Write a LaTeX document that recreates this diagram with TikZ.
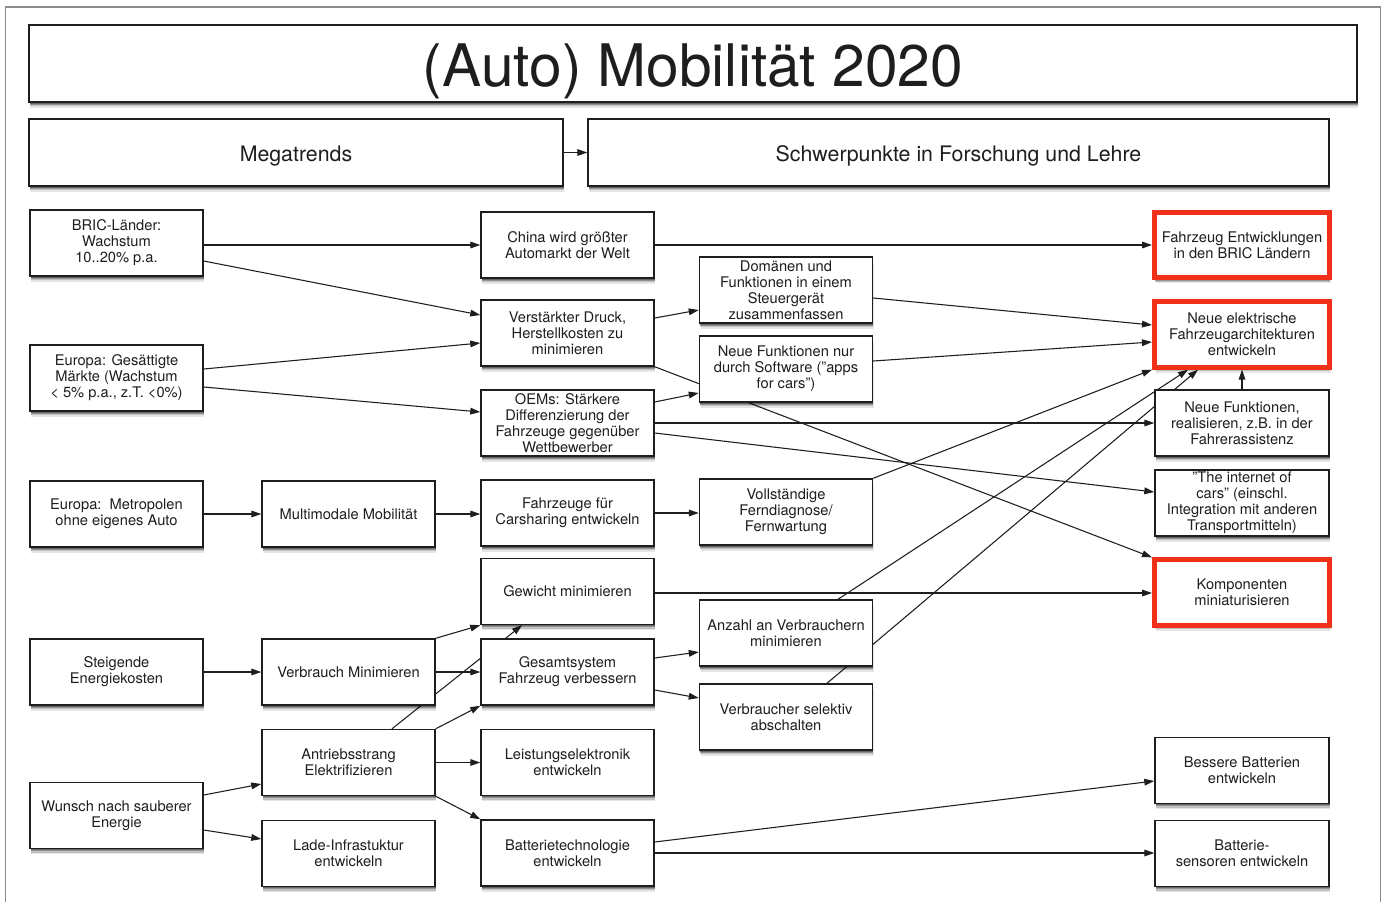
\documentclass[tikz,border=0pt]{standalone}
\usepackage{fontspec}
\setmainfont{TeX Gyre Heros}
\usetikzlibrary{arrows.meta,shadows,backgrounds}
\definecolor{rbred}{RGB}{240,48,24}
\definecolor{ink}{RGB}{30,30,30}
\begin{document}
\begin{tikzpicture}[x=0.75pt,y=-0.75pt,
  shad/.style={
    drop shadow={shadow xshift=0.8pt,shadow yshift=-4.2pt,opacity=0.10,fill=black},
    drop shadow={shadow xshift=0.7pt,shadow yshift=-3.2pt,opacity=0.16,fill=black},
    drop shadow={shadow xshift=0.6pt,shadow yshift=-2.2pt,opacity=0.24,fill=black},
    drop shadow={shadow xshift=0.5pt,shadow yshift=-1.3pt,opacity=0.30,fill=black}},
  box/.style={draw=ink,line width=1.1pt,fill=white,minimum width=129.75pt,minimum height=49.5pt,inner sep=0pt,align=center,font=\fontsize{11}{12}\selectfont,text=ink,shad},
  ebox/.style={box,minimum width=130.5pt},
  redbox/.style={box,draw=rbred,line width=3.75pt,minimum width=131.25pt,minimum height=49pt},
  headbox/.style={box,minimum height=50.25pt,font=\fontsize{16}{19}\selectfont},
  conn/.style={draw=ink,line width=0.8pt,-{Triangle[length=7.5pt,width=5pt]}}
]
\useasboundingbox (0,0) rectangle (1386,901);
\begin{scope}[on background layer]
  \fill[white] (0,0) rectangle (1386,901);
  \draw[black!45,line width=0.8pt] (5.5,7) rectangle (1380.5,960);
\end{scope}

% header
\node[box,minimum width=996pt,minimum height=57.75pt,font=\fontsize{44}{50}\selectfont] (title) at (693,63.5) {\raisebox{-16.9pt}[0pt][0pt]{(Auto) Mobilität 2020}};
\node[headbox,minimum width=400.5pt] (mega) at (296,152.5) {\raisebox{-6.9pt}[0pt][0pt]{Megatrends}};
\node[headbox,minimum width=555.75pt] (schwer) at (958.5,152.5) {\raisebox{-6.9pt}[0pt][0pt]{Schwerpunkte in Forschung und Lehre}};

% column A
\node[box] (bric) at (116.5,243) {BRIC-Länder:\\Wachstum\\10..20\% p.a.};
\node[box] (eug) at (116.5,378) {Europa: Gesättigte\\Märkte (Wachstum\\\textless{} 5\% p.a., z.T. \textless0\%)};
\node[box] (eum) at (116.5,514) {Europa:\ \ Metropolen\\ohne eigenes Auto};
\node[box] (steig) at (116.5,672) {Steigende\\Energiekosten};
\node[box] (wunsch) at (116.5,815.5) {Wunsch nach sauberer\\Energie};

% column B
\node[box] (multi) at (348.5,514) {Multimodale Mobilität};
\node[box] (verb) at (348.5,672) {Verbrauch Minimieren};
\node[box] (antr) at (348.5,762.5) {Antriebsstrang\\Elektrifizieren};
\node[box] (lade) at (348.5,853.5) {Lade-Infrastuktur\\entwickeln};

% column C
\node[box] (china) at (567.5,245) {China wird größter\\Automarkt der Welt};
\node[box] (verst) at (567.5,333) {Verstärkter Druck,\\Herstellkosten zu\\minimieren};
\node[box] (oems) at (567.5,423) {OEMs: Stärkere\\Differenzierung der\\Fahrzeuge gegenüber\\Wettbewerber};
\node[box] (carsh) at (567.5,513) {Fahrzeuge für\\Carsharing entwickeln};
\node[box] (gew) at (567.5,591.5) {Gewicht minimieren};
\node[box] (gesamt) at (567.5,672) {Gesamtsystem\\Fahrzeug verbessern};
\node[box] (leist) at (567.5,762.5) {Leistungselektronik\\entwickeln};
\node[box] (batt) at (567.5,853) {Batterietechnologie\\entwickeln};

% column D
\node[box] (domaenen) at (786,290) {Domänen und\\Funktionen in einem\\Steuergerät\\zusammenfassen};
\node[box] (nfsoft) at (786,369) {Neue Funktionen nur\\durch Software (\symbol{34}apps\\for cars\symbol{34})};
\node[box] (voll) at (786,512) {Vollständige\\Ferndiagnose/\\Fernwartung};
\node[box] (anzahl) at (786,633) {Anzahl an Verbrauchern\\minimieren};
\node[box] (versel) at (786,717) {Verbraucher selektiv\\abschalten};

% column E
\node[redbox] (fzbric) at (1242,245) {Fahrzeug Entwicklungen\\in den BRIC Ländern};
\node[redbox] (nelek) at (1242,334.5) {Neue elektrische\\Fahrzeugarchitekturen\\entwickeln};
\node[ebox] (nfreal) at (1242,423) {Neue Funktionen,\\realisieren, z.B. in der\\Fahrerassistenz};
\node[ebox] (internet) at (1242,503) {\symbol{34}The internet of\\cars\symbol{34} (einschl.\\Integration mit anderen\\Transportmitteln)};
\node[redbox] (komp) at (1242,592.5) {Komponenten\\miniaturisieren};
\node[ebox] (bess) at (1242,770.5) {Bessere Batterien\\entwickeln};
\node[ebox] (sens) at (1242,853.5) {Batterie-\\sensoren entwickeln};

% connectors
\begin{scope}[on background layer]
  \draw[conn] (mega.east) -- (schwer.west);
  \draw[conn] (bric.east |- 0,245) -- (china.west |- 0,245);
  \draw[conn] (bric.east |- 0,261) -- (verst.west |- 0,315);
  \draw[conn] (eug.east |- 0,369) -- (verst.west |- 0,343);
  \draw[conn] (eug.east |- 0,387) -- (oems.west |- 0,412);
  \draw[conn] (china.east |- 0,245) -- (fzbric.west |- 0,245);
  \draw[conn] (verst.east |- 0,318) -- (domaenen.west |- 0,310);
  \draw[conn] (oems.east |- 0,402) -- (nfsoft.west |- 0,393);
  \draw[conn] (domaenen.east |- 0,298) -- (nelek.west |- 0,325);
  \draw[conn] (nfsoft.east |- 0,361) -- (nelek.west |- 0,342);
  \draw[conn] (verst.south east) -- (komp.north west);
  \draw[conn] (oems.east |- 0,423) -- (nfreal.west |- 0,423);
  \draw[conn] (oems.east |- 0,433) -- (internet.west |- 0,492);
  \draw[conn] (eum.east) -- (multi.west);
  \draw[conn] (multi.east) -- (carsh.west |- multi.east);
  \draw[conn] (carsh.east) -- (voll.west |- carsh.east);
  \draw[conn] (voll.north east) -- (nelek.south west);
  \draw[conn] (gew.east |- 0,593) -- (komp.west |- 0,593);
  \draw[conn] (anzahl.north -| 838,0) -- (nelek.south -| 1188,0);
  \draw[conn] (versel.north -| 827,0) -- (nelek.south -| 1198,0);
  \draw[conn] (nfreal.north) -- (nelek.south);
  \draw[conn] (steig.east) -- (verb.west);
  \draw[conn] (verb.north east) -- (gew.south west);
  \draw[conn] (verb.east) -- (gesamt.west);
  \draw[conn] (gesamt.east |- 0,658) -- (anzahl.west |- 0,652);
  \draw[conn] (gesamt.east |- 0,690) -- (versel.west |- 0,698);
  \draw[conn] (antr.north -| 392,0) -- (gew.south -| 522,0);
  \draw[conn] (antr.north east) -- (gesamt.south west);
  \draw[conn] (antr.east) -- (leist.west);
  \draw[conn] (antr.south east) -- (batt.north west);
  \draw[conn] (wunsch.east |- 0,795) -- (antr.west |- 0,784);
  \draw[conn] (wunsch.east |- 0,830) -- (lade.west |- 0,839);
  \draw[conn] (batt.east |- 0,842) -- (bess.west |- 0,781);
  \draw[conn] (batt.east |- 0,853) -- (sens.west |- 0,853);
\end{scope}
\end{tikzpicture}
\end{document}
